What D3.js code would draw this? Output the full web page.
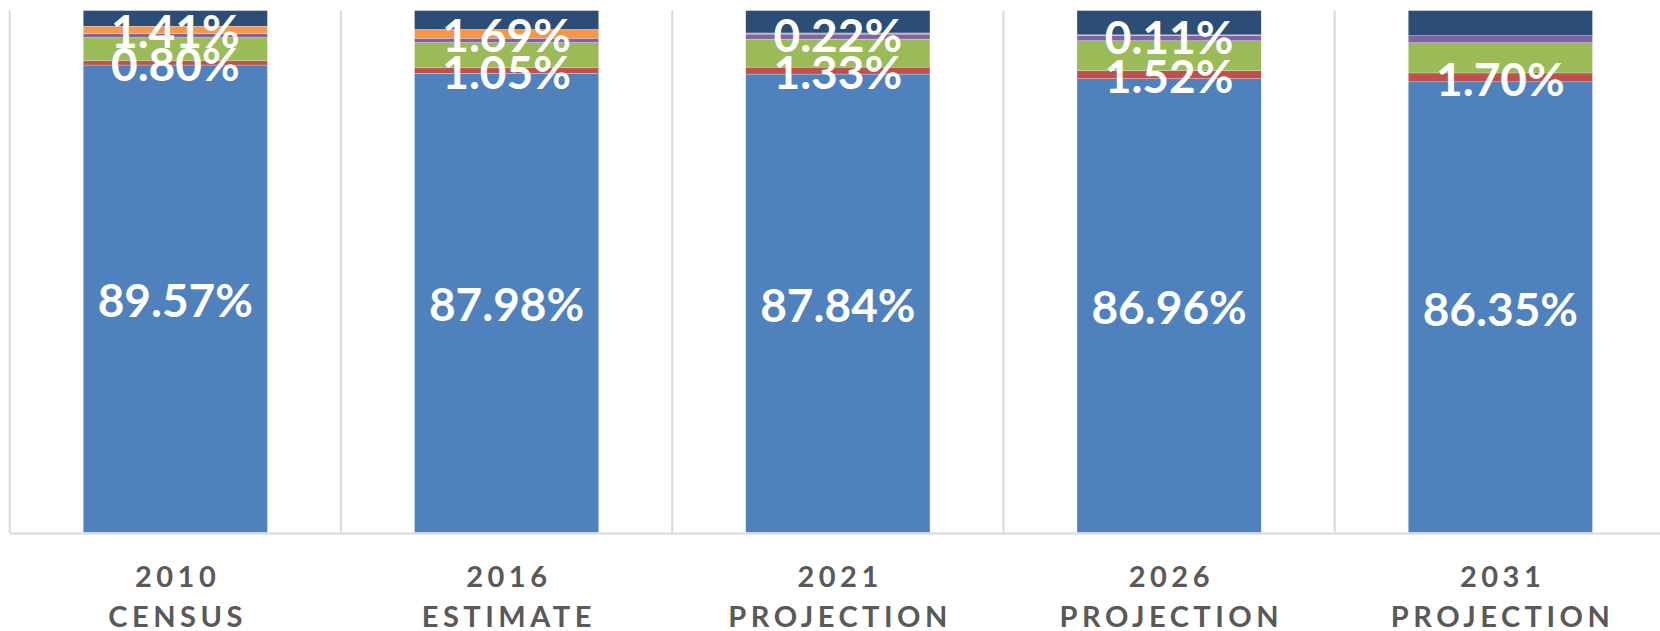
<!DOCTYPE html>
<html>
<head>
<meta charset="utf-8">
<script src="https://cdn.jsdelivr.net/npm/d3@7"></script>
<style>
  body { margin: 0; background: #fff; }
  svg { display: block; }
  .tick text { font-family: Lato, "Open Sans", sans-serif; font-weight: 700; fill: #595959; }
  .value { font-family: Lato, "Open Sans", sans-serif; font-weight: 700; fill: #fff; }
</style>
</head>
<body>
<div id="chart"></div>
<script>
// categories (two text lines each)
const categories = ['2010|CENSUS', '2016|ESTIMATE', '2021|PROJECTION', '2026|PROJECTION', '2031|PROJECTION'];

// series shares in percent, bottom to top of each stack
const white    = [89.57, 87.98, 87.84, 86.96, 86.35];
const black    = [0.80, 1.05, 1.33, 1.52, 1.70];
const hispanic = [4.47, 4.85, 5.37, 5.75, 5.80];
const asian    = [0.77, 0.83, 0.96, 1.02, 1.35];
const other    = [1.41, 1.69, 0.22, 0.11, 0.00];
const twoPlus  = [2.98, 3.60, 4.28, 4.64, 4.80];

const seriesKeys = ['white', 'black', 'hispanic', 'asian', 'other', 'twoPlus'];
const seriesColors = ['#4F81BD', '#C0504D', '#9BBB59', '#8064A2', '#F79646', '#2C4D75'];
const labelled = ['white', 'black', 'other']; // only these carry data labels

const data = categories.map((c, i) => ({
  cat: c,
  white: white[i], black: black[i], hispanic: hispanic[i],
  asian: asian[i], other: other[i], twoPlus: twoPlus[i]
}));

const width = 1660,
  height = 631,
  margin = { top: 10.6, right: -6, bottom: 98.5, left: 9.7 };

const svg = d3.select('div#chart').append('svg')
  .attr('width', width)
  .attr('height', height);

const x = d3.scaleBand()
  .domain(categories)
  .range([margin.left, width - margin.right])
  .paddingInner(0)
  .paddingOuter(0);

const y = d3.scaleLinear()
  .domain([0, 100])
  .range([height - margin.bottom, margin.top]);

const barW = x.bandwidth() * 0.556;

// vertical gridlines between categories
const bounds = categories.map(c => x(c));
svg.append('g').selectAll('line')
  .data(bounds)
  .join('line')
  .attr('x1', d => d).attr('x2', d => d)
  .attr('y1', margin.top).attr('y2', y(0))
  .attr('stroke', '#d9d9d9')
  .attr('stroke-width', 2);

const stack = d3.stack().keys(seriesKeys);
const layers = stack(data);

const color = d3.scaleOrdinal().domain(seriesKeys).range(seriesColors);

svg.append('g').selectAll('g')
  .data(layers)
  .join('g')
  .attr('fill', d => color(d.key))
  .selectAll('rect')
  .data(d => d)
  .join('rect')
  .attr('x', d => x(d.data.cat) + (x.bandwidth() - barW) / 2)
  .attr('width', barW)
  .attr('y', d => y(d[1]))
  .attr('height', d => y(d[0]) - y(d[1]))
  .attr('stroke', '#fff')
  .attr('stroke-width', 0.4)
  .attr('stroke-opacity', 0.6);

// horizontal axis line
svg.append('line')
  .attr('x1', margin.left).attr('x2', width)
  .attr('y1', y(0) + 1).attr('y2', y(0) + 1)
  .attr('stroke', '#d9d9d9')
  .attr('stroke-width', 2);

// category axis
const xAxis = svg.append('g')
  .attr('transform', 'translate(0,' + y(0) + ')')
  .call(d3.axisBottom(x).tickSize(0).tickFormat(''));
xAxis.select('.domain').remove();
xAxis.selectAll('.tick text')
  .attr('y', 0)
  .attr('dy', null)
  .style('font-size', '29px')
  .style('letter-spacing', '4.5px')
  .attr('text-anchor', 'middle')
  .each(function (d) {
    const t = d3.select(this);
    d.split('|').forEach((line, j) => {
      t.append('tspan')
        .attr('x', 2.25)
        .attr('y', 54 + j * 40)
        .text(line);
    });
  });

// data labels
const labelRows = layers.filter(l => labelled.includes(l.key))
  .flatMap(l => l.map(d => ({ key: l.key, cat: d.data.cat, v: d.data[l.key], y0: d[0], y1: d[1] })))
  .filter(d => d.v > 0);

svg.append('g').selectAll('text')
  .data(labelRows)
  .join('text')
  .attr('class', 'value')
  .attr('x', d => x(d.cat) + x.bandwidth() / 2)
  .attr('y', d => y((d.y0 + d.y1) / 2))
  .attr('dy', '0.40em')
  .attr('text-anchor', 'middle')
  .style('font-size', '46px')
  .text(d => d.v.toFixed(2) + '%');
</script>
</body>
</html>
